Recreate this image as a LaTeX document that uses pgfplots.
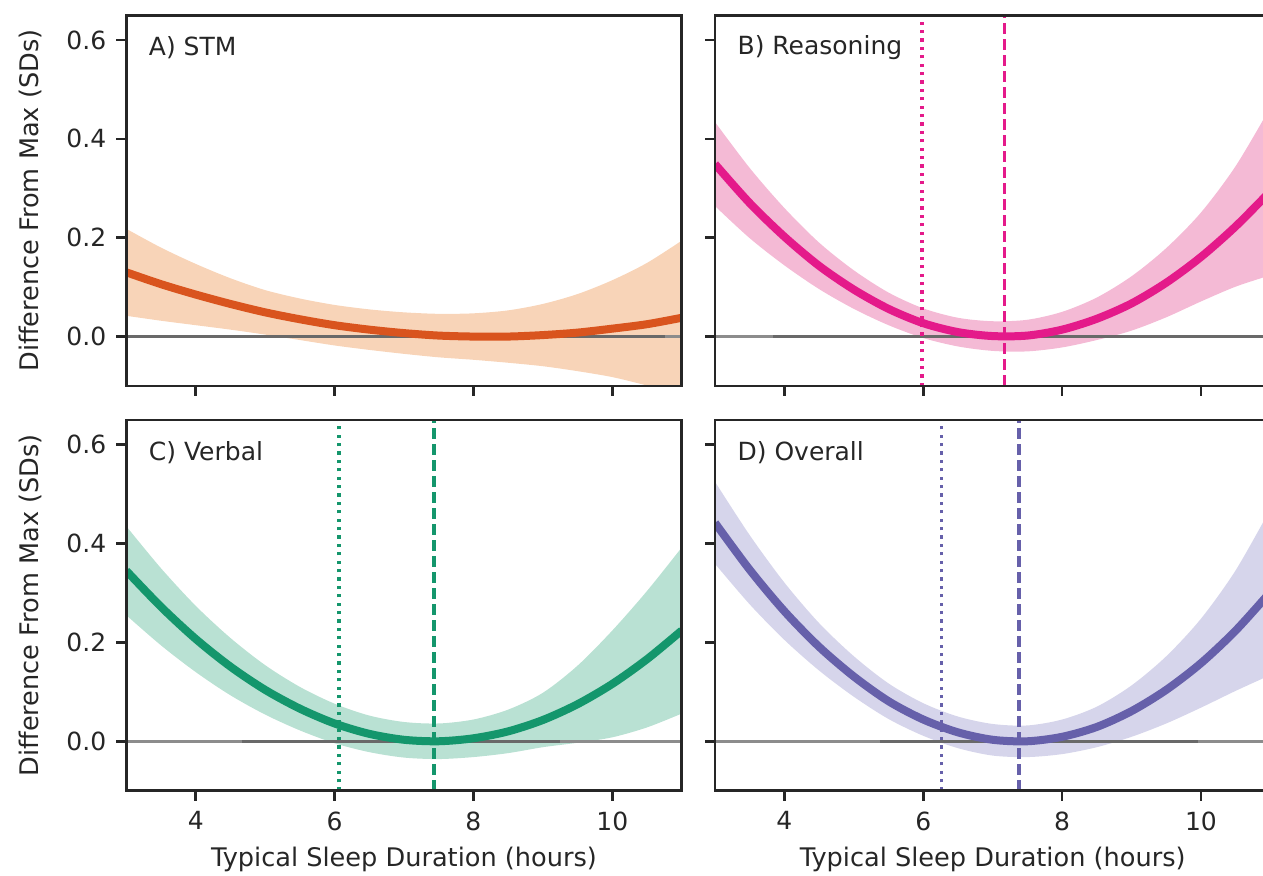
\documentclass[border=0pt]{standalone}
\usepackage{pgfplots}
\pgfplotsset{compat=1.18}
\usepackage{pgfplotstable}
\usepgfplotslibrary{groupplots,fillbetween}
\usepackage{fontspec}
\setmainfont{DejaVu Sans}

\definecolor{txt}{RGB}{38,38,38}
\definecolor{lineA}{RGB}{217,84,30}
\definecolor{fillA}{RGB}{248,212,184}
\definecolor{lineB}{RGB}{228,26,138}
\definecolor{fillB}{RGB}{244,186,213}
\definecolor{lineC}{RGB}{20,150,108}
\definecolor{fillC}{RGB}{185,225,211}
\definecolor{lineD}{RGB}{102,96,170}
\definecolor{fillD}{RGB}{214,213,235}
\definecolor{zlight}{RGB}{140,140,140}
\definecolor{zdark}{RGB}{105,105,105}

% x, fitted curve, upper and lower bound of the band
\pgfplotstableread{
x    mid    up     lo
3.0  0.130  0.218  0.042
3.5  0.106  0.180  0.032
4.0  0.085  0.147  0.023
4.5  0.066  0.118  0.014
5.0  0.049  0.094  0.004
5.5  0.035  0.077  -0.007
6.0  0.023  0.064  -0.018
6.5  0.014  0.055  -0.027
7.0  0.007  0.049  -0.035
7.5  0.002  0.046  -0.042
8.0  0.000  0.047  -0.047
8.5  0.000  0.053  -0.053
9.0  0.003  0.066  -0.060
9.5  0.008  0.086  -0.070
10.0 0.016  0.114  -0.082
10.5 0.025  0.149  -0.099
11.0 0.038  0.194  -0.118
}\stm

\pgfplotstableread{
x    mid    up     lo
3.0  0.349  0.434  0.264
3.5  0.270  0.341  0.199
4.0  0.202  0.260  0.144
4.5  0.143  0.190  0.096
5.0  0.095  0.134  0.056
5.5  0.056  0.089  0.023
6.0  0.027  0.057  -0.003
6.5  0.009  0.038  -0.020
7.0  0.001  0.031  -0.029
7.5  0.002  0.034  -0.030
8.0  0.014  0.050  -0.022
8.5  0.036  0.079  -0.007
9.0  0.067  0.122  0.012
9.5  0.109  0.179  0.039
10.0 0.161  0.251  0.071
10.5 0.223  0.345  0.101
11.0 0.294  0.464  0.124
}\reason

\pgfplotstableread{
x    mid    up     lo
3.0  0.345  0.435  0.255
3.5  0.272  0.350  0.194
4.0  0.207  0.274  0.140
4.5  0.151  0.209  0.093
5.0  0.104  0.154  0.054
5.5  0.066  0.110  0.022
6.0  0.036  0.076  -0.004
6.5  0.015  0.052  -0.022
7.0  0.003  0.039  -0.033
7.5  0.000  0.036  -0.036
8.0  0.006  0.044  -0.032
8.5  0.020  0.064  -0.024
9.0  0.043  0.098  -0.012
9.5  0.075  0.153  -0.003
10.0 0.116  0.224  0.008
10.5 0.166  0.304  0.028
11.0 0.224  0.392  0.056
}\verbal

\pgfplotstableread{
x    mid    up     lo
3.0  0.442  0.525  0.359
3.5  0.347  0.417  0.277
4.0  0.263  0.321  0.205
4.5  0.191  0.239  0.143
5.0  0.131  0.172  0.090
5.5  0.081  0.117  0.045
6.0  0.044  0.077  0.011
6.5  0.018  0.050  -0.014
7.0  0.003  0.035  -0.029
7.5  0.000  0.032  -0.032
8.0  0.009  0.044  -0.026
8.5  0.029  0.070  -0.012
9.0  0.061  0.113  0.009
9.5  0.104  0.172  0.036
10.0 0.158  0.248  0.068
10.5 0.224  0.346  0.102
11.0 0.302  0.470  0.134
}\overall

\pgfplotsset{
  band/.style={draw=none, smooth, forget plot},
  fit/.style={line width=4pt, smooth},
  zero/.style={line width=1.25pt},
  dotline/.style={line width=1.8pt, dash pattern=on 1.6pt off 2.6pt},
  dashline/.style={line width=1.8pt, dash pattern=on 5.5pt off 2.5pt},
}
\tikzset{
  paneltitle/.style={anchor=west, inner sep=0pt, font=\fontsize{12.5}{15}\selectfont, text=txt},
}

\begin{document}
\begin{tikzpicture}
\begin{groupplot}[
    group style={group size=2 by 2, horizontal sep=16.65pt, vertical sep=17pt,
      xticklabels at=edge bottom, yticklabels at=edge left,
      xlabels at=edge bottom, ylabels at=edge left},
    scale only axis, width=277.7pt, height=185.35pt,
    xmin=3, xmax=11, ymin=-0.1, ymax=0.65,
    xtick={4,6,8,10}, ytick={0,0.2,0.4,0.6},
    xtick pos=bottom, ytick pos=left,
    tick align=outside, major tick length=5pt,
    every tick/.style={txt, line width=1.25pt},
    axis line style={txt, line width=1.25pt},
    axis on top,
    /pgf/number format/assume math mode=true,
    tick label style={font=\fontsize{12.5}{15}\selectfont, text=txt},
    xticklabel style={yshift=-2pt},
    yticklabel style={xshift=-1.5pt, /pgf/number format/fixed,
      /pgf/number format/fixed zerofill, /pgf/number format/precision=1},
    xlabel={Typical Sleep Duration (hours)},
    ylabel={Difference From Max (SDs)},
    label style={font=\fontsize{12.8}{15}\selectfont, text=txt},
    xlabel style={at={(axis description cs:0.5,-0.186)}, anchor=center},
    ylabel style={at={(axis description cs:-0.173,0.5)}, anchor=center},
]

\nextgroupplot
\coordinate (TL) at (rel axis cs:0,1);
\addplot[band, name path=au] table[x=x, y=up] {\stm};
\addplot[band, name path=al] table[x=x, y=lo] {\stm};
\addplot[fillA, draw=none] fill between[of=au and al];
\addplot[zero, zlight] coordinates {(3,0) (11,0)};
\addplot[zero, zdark] coordinates {(3,0) (10.76,0)};
\addplot[fit, lineA] table[x=x, y=mid] {\stm};
\node[paneltitle] at (rel axis cs:0.04,0.912) {A) STM};

\nextgroupplot
\addplot[band, name path=bu] table[x=x, y=up] {\reason};
\addplot[band, name path=bl] table[x=x, y=lo] {\reason};
\addplot[fillB, draw=none] fill between[of=bu and bl];
\addplot[zero, zlight] coordinates {(3,0) (11,0)};
\addplot[zero, zdark] coordinates {(3.84,0) (11,0)};
\addplot[fit, lineB] table[x=x, y=mid] {\reason};
\addplot[dotline, lineB] coordinates {(5.98,-0.1) (5.98,0.65)};
\addplot[dashline, lineB] coordinates {(7.17,-0.1) (7.17,0.65)};
\node[paneltitle] at (rel axis cs:0.04,0.912) {B) Reasoning};

\nextgroupplot
\addplot[band, name path=cu] table[x=x, y=up] {\verbal};
\addplot[band, name path=cl] table[x=x, y=lo] {\verbal};
\addplot[fillC, draw=none] fill between[of=cu and cl];
\addplot[zero, zlight] coordinates {(3,0) (11,0)};
\addplot[zero, zdark] coordinates {(4.66,0) (9.25,0)};
\addplot[fit, lineC] table[x=x, y=mid] {\verbal};
\addplot[dotline, lineC] coordinates {(6.06,-0.1) (6.06,0.65)};
\addplot[dashline, lineC] coordinates {(7.43,-0.1) (7.43,0.65)};
\node[paneltitle] at (rel axis cs:0.04,0.912) {C) Verbal};

\nextgroupplot
\addplot[band, name path=du] table[x=x, y=up] {\overall};
\addplot[band, name path=dl] table[x=x, y=lo] {\overall};
\addplot[fillD, draw=none] fill between[of=du and dl];
\addplot[zero, zlight] coordinates {(3,0) (11,0)};
\addplot[zero, zdark] coordinates {(5.37,0) (9.95,0)};
\addplot[fit, lineD] table[x=x, y=mid] {\overall};
\addplot[dotline, lineD] coordinates {(6.26,-0.1) (6.26,0.65)};
\addplot[dashline, lineD] coordinates {(7.38,-0.1) (7.38,0.65)};
\node[paneltitle] at (rel axis cs:0.04,0.912) {D) Overall};

\end{groupplot}
\pgfresetboundingbox
\path ([shift={(-63.15pt,7.65pt)}]TL) rectangle ([shift={(568.35pt,-430.35pt)}]TL);
\end{tikzpicture}
\end{document}
